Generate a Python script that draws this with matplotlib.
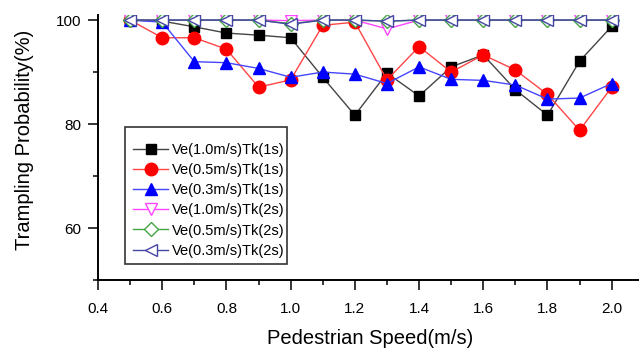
import matplotlib
matplotlib.use("Agg")
import matplotlib.pyplot as plt
from matplotlib.ticker import MultipleLocator
from matplotlib.patches import Rectangle

plt.rcParams['font.family'] = ['Liberation Sans', 'DejaVu Sans']

speed = [0.5, 0.6, 0.7, 0.8, 0.9, 1.0, 1.1, 1.2, 1.3, 1.4, 1.5, 1.6, 1.7, 1.8, 1.9, 2.0]
ve10_tk1 = [100, 99.8, 98.7, 97.5, 97.1, 96.6, 89.0, 81.7, 89.8, 85.4, 91.0, 93.3, 86.6, 81.7, 92.1, 98.8]
ve05_tk1 = [100, 96.6, 96.6, 94.4, 87.1, 88.5, 99.0, 99.6, 88.5, 94.9, 90.0, 93.3, 90.4, 85.7, 78.8, 87.1]
ve03_tk1 = [100, 99.6, 92.0, 91.8, 90.7, 89.0, 90.0, 89.6, 87.8, 91.0, 88.6, 88.4, 87.5, 84.8, 85.0, 87.8]
ve10_tk2 = [100, 100, 100, 100, 100, 99.9, 100, 100, 98.3, 100, 100, 100, 100, 100, 100, 100]
ve05_tk2 = [100, 100, 100, 100, 100, 99.3, 100, 100, 99.8, 100, 100, 100, 100, 100, 100, 100]
ve03_tk2 = [100, 100, 100, 100, 100, 99.2, 100, 100, 99.8, 100, 100, 100, 100, 100, 100, 100]

labels = ["Ve(1.0m/s)Tk(1s)", "Ve(0.5m/s)Tk(1s)", "Ve(0.3m/s)Tk(1s)",
          "Ve(1.0m/s)Tk(2s)", "Ve(0.5m/s)Tk(2s)", "Ve(0.3m/s)Tk(2s)"]
xtick_vals = [0.4, 0.6, 0.8, 1.0, 1.2, 1.4, 1.6, 1.8, 2.0]
xtick_labels = ["0.4", "0.6", "0.8", "1.0", "1.2", "1.4", "1.6", "1.8", "2.0"]
ytick_vals = [60, 80, 100]

fig = plt.figure(figsize=(6.39, 3.51), dpi=100)
ax = fig.add_axes([0.1534, 0.2023, 0.8466, 0.7547])

ax.plot(speed, ve10_tk1, color='#444444', lw=1.0, marker='s', ms=7.5,
        mfc='black', mec='black', label=labels[0])
ax.plot(speed, ve05_tk1, color='#ff4545', lw=1.0, marker='o', ms=9,
        mfc='red', mec='red', label=labels[1])
ax.plot(speed, ve03_tk1, color='#4545ff', lw=1.0, marker='^', ms=9,
        mfc='blue', mec='blue', label=labels[2])
ax.plot(speed, ve10_tk2, color='#ff45ff', lw=1.0, marker='v', ms=9,
        mfc='white', mec='#ff45ff', mew=1.0, label=labels[3])
ax.plot(speed, ve05_tk2, color='#45a545', lw=1.0, marker='D', ms=7,
        mfc='white', mec='#45a545', mew=1.0, label=labels[4])
ax.plot(speed, ve03_tk2, color='#4545a5', lw=1.0, marker='<', ms=9,
        mfc='white', mec='#4545a5', mew=1.0, label=labels[5])

ax.set_xlim(0.4, 2.085)
ax.set_ylim(50, 100.96)
ax.spines['top'].set_visible(False)
ax.spines['right'].set_visible(False)
ax.spines['left'].set_linewidth(1.4)
ax.spines['bottom'].set_linewidth(1.4)

ax.xaxis.set_minor_locator(MultipleLocator(0.1))
ax.yaxis.set_minor_locator(MultipleLocator(10))
ax.set_xticks(xtick_vals)
ax.set_xticklabels(xtick_labels)
ax.set_yticks(ytick_vals)
ax.tick_params(which='major', direction='out', length=7.2, width=1.1, labelsize=11, pad=5)
ax.tick_params(axis='x', which='major', pad=9)
ax.tick_params(which='minor', direction='out', length=3.6, width=1.1)

ax.set_xlabel("Pedestrian Speed(m/s)", fontsize=14.5)
ax.set_ylabel("Trampling Probability(%)", fontsize=14.5)
ax.xaxis.set_label_coords(0.5 + 1.5 / 541, -(339 - 280 - 10) / 265)
ax.yaxis.set_label_coords(-(98 - 34) / 541, (280 - 140) / 265)

# legend frame drawn as a rectangle in axes coordinates
ax.add_patch(Rectangle(((125 - 98) / 541, (280 - 264) / 265),
                       (287 - 125) / 541, (264 - 127) / 265,
                       transform=ax.transAxes, fill=True, facecolor='white',
                       edgecolor='#333333', lw=1.2, zorder=4))
leg = ax.legend(loc='upper left', bbox_to_anchor=((133 - 98) / 541, (280 - 143) / 265),
                numpoints=1, fontsize=10.5, frameon=False,
                handlelength=2.4, handletextpad=0.3, borderpad=0,
                labelspacing=0.42, borderaxespad=0)
leg.set_zorder(5)

fig.savefig("out.png", dpi=100)
